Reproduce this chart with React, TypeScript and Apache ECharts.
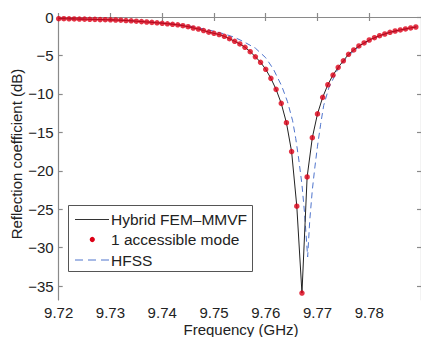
import React, { useEffect, useRef } from "react";
import * as echarts from "echarts";

// Frequencies (GHz) for the 1-accessible-mode points / hybrid curve
const freqs = [
  9.72, 9.721, 9.722, 9.723, 9.724, 9.725, 9.726, 9.727, 9.728, 9.729,
  9.73, 9.731, 9.732, 9.733, 9.734, 9.735, 9.736, 9.737, 9.738, 9.739,
  9.74, 9.741, 9.742, 9.743, 9.744, 9.745, 9.746, 9.747, 9.748, 9.749,
  9.75, 9.751, 9.752, 9.753, 9.754, 9.755, 9.756, 9.757, 9.758, 9.759,
  9.76, 9.761, 9.762, 9.763, 9.764, 9.765, 9.766, 9.767, 9.768, 9.769,
  9.77, 9.771, 9.772, 9.773, 9.774, 9.775, 9.776, 9.777, 9.778, 9.779,
  9.78, 9.781, 9.782, 9.783, 9.784, 9.785, 9.786, 9.787, 9.788, 9.789,
];

// Reflection coefficient (dB), hybrid FEM-MMVF / 1 accessible mode
const hybridDb = [
  -0.22, -0.22, -0.24, -0.25, -0.27, -0.28, -0.3, -0.31, -0.34, -0.35,
  -0.37, -0.39, -0.42, -0.46, -0.5, -0.55, -0.6, -0.65, -0.7, -0.76,
  -0.82, -0.88, -0.95, -1.02, -1.13, -1.26, -1.43, -1.56, -1.76, -1.97,
  -2.12, -2.28, -2.51, -2.82, -3.16, -3.51, -3.94, -4.51, -5.17, -5.89,
  -6.8, -7.98, -9.41, -11.23, -13.75, -17.5, -24.6, -35.9, -20.8, -15.7,
  -12.6, -10.45, -8.81, -7.55, -6.55, -5.69, -4.85, -4.29, -3.77, -3.38,
  -2.99, -2.69, -2.43, -2.21, -1.99, -1.82, -1.68, -1.55, -1.42, -1.3,
];

// HFSS curve
const hfssFreq = [
  9.72, 9.725, 9.73, 9.735, 9.74, 9.745, 9.748, 9.75, 9.752, 9.754,
  9.7557, 9.758, 9.76, 9.7615, 9.7631, 9.7642, 9.7652, 9.7658, 9.7664, 9.767,
  9.7675, 9.7681, 9.7685, 9.769, 9.7695, 9.77, 9.7706, 9.7712, 9.7722, 9.774,
  9.776, 9.778, 9.78, 9.782, 9.784, 9.786, 9.788, 9.79,
];
const hfssDb = [
  -0.2, -0.28, -0.36, -0.52, -0.75, -1.15, -1.55, -1.85, -2.2, -2.65,
  -3.2, -4.05, -5.3, -6.8, -9.0, -11.0, -13.5, -15.8, -18.6, -21.8,
  -25.5, -31.2, -26.5, -22.5, -19.5, -16.8, -14.0, -11.5, -9.2, -6.7,
  -5.0, -3.85, -3.05, -2.45, -2.0, -1.7, -1.42, -1.18,
];

const xTicks = [9.72, 9.73, 9.74, 9.75, 9.76, 9.77, 9.78];
const yTicks = [0, -5, -10, -15, -20, -25, -30, -35];

const FONT = "Liberation Sans";
const AXIS_COLOR = "#8a8a8a";

export default function App() {
  const ref = useRef<HTMLDivElement>(null);
  useEffect(() => {
    if (!ref.current) return;
    const chart = echarts.init(ref.current, null, { renderer: "svg" });
    const fmtY = (v: number) => (v < 0 ? "\u2212" + Math.abs(v) : String(v));
    const axisLine = { show: true, lineStyle: { color: AXIS_COLOR, width: 1.2 } };
    const tick = (vals: number[]) => ({
      show: true,
      inside: true,
      length: 4,
      customValues: vals,
      lineStyle: { color: AXIS_COLOR, width: 1.2 },
    });
    chart.setOption({
      animation: false,
      backgroundColor: "#ffffff",
      grid: { left: 58.7, top: 17, width: 367, height: 283 },
      xAxis: [
        {
          type: "value",
          min: 9.72,
          max: 9.79,
          axisLine,
          axisTick: tick(xTicks),
          splitLine: { show: false },
          axisLabel: {
            customValues: xTicks,
            formatter: (v: number) => v.toFixed(2),
            fontFamily: FONT,
            fontSize: 15,
            lineHeight: 15,
            color: "#222",
            margin: 5,
          },
        },
        {
          type: "value",
          position: "top",
          min: 9.72,
          max: 9.79,
          axisLine,
          axisTick: tick(xTicks),
          splitLine: { show: false },
          axisLabel: { show: false },
        },
      ],
      yAxis: [
        {
          type: "value",
          min: -36.8,
          max: 0,
          axisLine,
          axisTick: tick(yTicks),
          splitLine: { show: false },
          axisLabel: {
            customValues: yTicks,
            formatter: fmtY,
            fontFamily: FONT,
            fontSize: 15,
            color: "#222",
            margin: 5,
          },
        },
        {
          type: "value",
          position: "right",
          min: -36.8,
          max: 0,
          axisLine,
          axisTick: tick(yTicks),
          splitLine: { show: false },
          axisLabel: { show: false },
        },
      ],
      series: [
        {
          name: "HFSS",
          type: "line",
          data: hfssFreq.map((f, i) => [f, hfssDb[i]]),
          showSymbol: false,
          lineStyle: { color: "#4f74cc", width: 1, type: [6, 4] },
          z: 2,
        },
        {
          name: "Hybrid FEM\u2013MMVF",
          type: "line",
          data: freqs.map((f, i) => [f, hybridDb[i]]),
          showSymbol: false,
          lineStyle: { color: "#222", width: 1 },
          z: 3,
        },
        {
          name: "1 accessible mode",
          type: "scatter",
          data: freqs.map((f, i) => [f, hybridDb[i]]),
          symbol: "circle",
          symbolSize: 5.5,
          itemStyle: { color: "#dc0016" },
          z: 4,
        },
      ],
      graphic: [
        {
          type: "text",
          x: 16,
          y: 154,
          rotation: Math.PI / 2,
          style: {
            text: "Reflection coefficient (dB)",
            fontFamily: FONT,
            fontSize: 15,
            fill: "#222",
            textAlign: "center",
            textVerticalAlign: "middle",
          },
        },
        {
          type: "text",
          x: 241,
          y: 329,
          style: {
            text: "Frequency (GHz)",
            fontFamily: FONT,
            fontSize: 15,
            lineHeight: 15,
            fill: "#222",
            textAlign: "center",
            textVerticalAlign: "middle",
          },
        },
        {
          type: "group",
          z: 100,
          children: [
            {
              type: "rect",
              shape: { x: 68.5, y: 205.5, width: 184, height: 66 },
              style: { fill: "#ffffff", stroke: "#555", lineWidth: 1 },
            },
            {
              type: "line",
              shape: { x1: 75, y1: 219.5, x2: 109, y2: 219.5 },
              style: { stroke: "#333", lineWidth: 1 },
            },
            {
              type: "circle",
              shape: { cx: 92.3, cy: 239.5, r: 2.6 },
              style: { fill: "#dc0016" },
            },
            {
              type: "line",
              shape: { x1: 75, y1: 260, x2: 109, y2: 260 },
              style: { stroke: "#4f74cc", lineWidth: 1, lineDash: [8, 5] },
            },
            {
              type: "text",
              x: 111,
              y: 219.5,
              style: {
                text: "Hybrid FEM\u2013MMVF",
                fontFamily: FONT,
                fontSize: 15.5,
                fill: "#222",
                textVerticalAlign: "middle",
              },
            },
            {
              type: "text",
              x: 111,
              y: 239.5,
              style: {
                text: "1 accessible mode",
                fontFamily: FONT,
                fontSize: 15.5,
                fill: "#222",
                textVerticalAlign: "middle",
              },
            },
            {
              type: "text",
              x: 111,
              y: 260,
              style: {
                text: "HFSS",
                fontFamily: FONT,
                fontSize: 15.5,
                fill: "#222",
                textVerticalAlign: "middle",
              },
            },
          ],
        },
      ],
    });
    return () => chart.dispose();
  }, []);
  return (
    <div
      ref={ref}
      style={{ position: "fixed", left: 0, top: 0, width: 421, height: 337 }}
    />
  );
}
